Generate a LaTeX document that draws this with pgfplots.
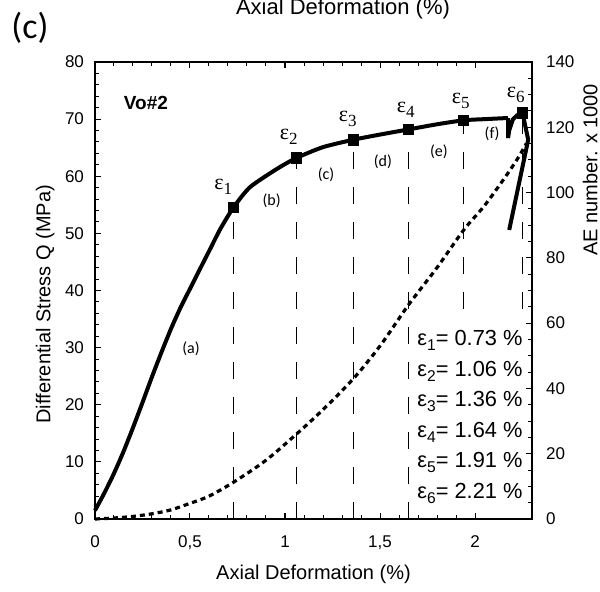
\documentclass[border=0pt]{standalone}
\usepackage{fontspec}
\setmainfont{Liberation Sans}
\newfontfamily\calib{Carlito}
\newfontfamily\seriffont{Liberation Serif}
\usepackage{pgfplots}
\pgfplotsset{compat=1.18}

% epsilon over a marker, and epsilon line of the list
\newcommand{\epsl}[1]{{\seriffont\fontsize{11}{11}\selectfont ε\raisebox{-2.5pt}{\fontsize{8.5}{8.5}\selectfont #1}}}
\newcommand{\epsv}[2]{ε\raisebox{-2.5pt}{\fontsize{7.8}{7.8}\selectfont #1}= #2 \%}

\begin{document}
\begin{tikzpicture}[x=0.5pt,y=0.5pt]
\useasboundingbox (-95,-72) rectangle (505,519);
\clip (-95,-72) rectangle (505,519);

% stress axis
\begin{axis}[
    at={(0,0)}, anchor=south west,
    scale only axis, width=218.5pt, height=228.5pt,
    xmin=0, xmax=2.3, ymin=0, ymax=80,
    clip=false, axis on top,
    axis line style={line width=0.9pt},
    tick align=inside,
    major tick length=3pt, minor tick length=2pt,
    tick style={line width=0.5pt, black},
    xtick={0,0.5,1,1.5,2}, xticklabels={0,{0,5},1,{1,5},2},
    minor x tick num=4,
    ytick={0,10,...,80}, minor y tick num=4,
    ytick pos=left,
    ticklabel style={font=\fontsize{8.5}{8.5}\selectfont},
    xticklabel style={yshift=-5pt},
    yticklabel style={xshift=-2pt},
    /pgf/number format/assume math mode=true,
    xlabel={Axial Deformation (\%)},
    ylabel={Differential Stress Q (MPa)},
    label style={font=\fontsize{10}{10}\selectfont},
    xlabel style={at={(axis description cs:0.5,0)}, anchor=base, yshift=-30pt},
    ylabel style={at={(axis description cs:-0.114,0.47)}, anchor=center},
]
\addplot[line width=2pt, smooth, tension=0.4] coordinates {
    (0,1.5) (0.05,4.6) (0.1,8.0) (0.15,11.8) (0.2,16.0) (0.25,20.4)
    (0.3,24.9) (0.35,29.2) (0.4,33.3) (0.45,37.0) (0.5,40.3) (0.553,43.8)
    (0.605,47.2) (0.66,50.8) (0.73,54.6) (0.816,58.1) (0.958,61.3) (1.06,63.2)
    (1.2,65.1) (1.36,66.4) (1.5,67.3) (1.65,68.2) (1.8,69.1) (1.94,69.8)
    (2.05,70.0) (2.174,70.2)
};
\addplot[line width=2pt] coordinates {
    (2.174,70.2) (2.174,66.7) (2.18,68.0) (2.2,70.0)
    (2.23,70.9) (2.25,71.1) (2.28,66.4) (2.18,50.6)
};
% dashed lines under the epsilon points
\addplot[line width=0.8pt, dash pattern=on 8.5pt off 9pt] coordinates {(0.73,0) (0.73,54.6)};
\addplot[line width=0.8pt, dash pattern=on 8.5pt off 9pt] coordinates {(1.06,0) (1.06,63.2)};
\addplot[line width=0.8pt, dash pattern=on 8.5pt off 9pt] coordinates {(1.36,0) (1.36,66.4)};
\addplot[line width=0.8pt, dash pattern=on 8.5pt off 9pt] coordinates {(1.65,0) (1.65,68.2)};
\addplot[line width=0.8pt, dash pattern=on 8.5pt off 9pt] coordinates {(1.94,0) (1.94,69.8)};
\addplot[line width=0.8pt, dash pattern=on 8.5pt off 9pt] coordinates {(2.25,0) (2.25,71.1)};
% epsilon markers
\addplot[only marks, mark=square*, mark size=2.6pt] coordinates {
    (0.73,54.6) (1.06,63.2) (1.36,66.4) (1.65,68.2) (1.94,69.8) (2.25,71.1)
};

\node at (axis cs:0.675,58.1) {\epsl{1}};
\node at (axis cs:1.02,66.9) {\epsl{2}};
\node at (axis cs:1.33,70.0) {\epsl{3}};
\node at (axis cs:1.635,71.6) {\epsl{4}};
\node at (axis cs:1.925,73.2) {\epsl{5}};
\node at (axis cs:2.215,74.2) {\epsl{6}};

\begin{scope}[font=\calib\fontsize{8}{8}\selectfont]
\node at (axis cs:0.505,29.8) {(a)};
\node at (axis cs:0.93,55.7) {(b)};
\node at (axis cs:1.216,60.2) {(c)};
\node at (axis cs:1.515,62.5) {(d)};
\node at (axis cs:1.81,64.3) {(e)};
\node at (axis cs:2.09,67.4) {(f)};
\end{scope}

\node[font=\bfseries\fontsize{9.5}{9.5}\selectfont] at (axis cs:0.268,72.8) {Vo\#2};

% white box of the strain list
\fill[white] (axis cs:1.668,0) rectangle (axis cs:2.3,34.6);
\begin{scope}[font=\fontsize{10.9}{10.9}\selectfont, inner sep=0pt]
\node[anchor=west] at (axis cs:1.695,31.3) {\epsv{1}{0.73}};
\node[anchor=west] at (axis cs:1.695,25.9) {\epsv{2}{1.06}};
\node[anchor=west] at (axis cs:1.695,20.6) {\epsv{3}{1.36}};
\node[anchor=west] at (axis cs:1.695,15.2) {\epsv{4}{1.64}};
\node[anchor=west] at (axis cs:1.695,9.98) {\epsv{5}{1.91}};
\node[anchor=west] at (axis cs:1.695,4.55) {\epsv{6}{2.21}};
\end{scope}
\end{axis}

% acoustic emission axis
\begin{axis}[
    at={(0,0)}, anchor=south west,
    scale only axis, width=218.5pt, height=228.5pt,
    xmin=0, xmax=2.3, ymin=0, ymax=140,
    clip=false,
    axis x line=none,
    axis y line*=right,
    axis line style={line width=0.9pt, -},
    tick align=inside,
    major tick length=3pt, minor tick length=2pt,
    tick style={line width=0.5pt, black},
    ytick={0,20,...,140}, minor y tick num=3,
    ticklabel style={font=\fontsize{8.5}{8.5}\selectfont},
    yticklabel style={xshift=3.5pt},
    /pgf/number format/assume math mode=true,
    ylabel={AE number. x 1000},
    ylabel style={font=\fontsize{10}{10}\selectfont, at={(axis description cs:1.133,0.764)}, anchor=center, rotate=0},
]
\addplot[line width=1.6pt, dash pattern=on 2.5pt off 2pt, smooth] coordinates {
    (0,0) (0.1,0.3) (0.2,0.8) (0.3,1.6) (0.4,2.8) (0.5,4.8) (0.6,7)
    (0.73,11.3) (0.9,18) (1.06,26) (1.2,33.5) (1.36,43) (1.5,53)
    (1.65,65.6) (1.8,77) (1.94,88.5) (2.05,96) (2.15,104) (2.22,110) (2.27,115)
};
\end{axis}

\node[font=\calib\fontsize{18}{18}\selectfont] at (-65,491) {(c)};
\node[font=\fontsize{11}{11}\selectfont, anchor=base] at (248,505) {Axial Deformation (\%)};
\end{tikzpicture}
\end{document}
